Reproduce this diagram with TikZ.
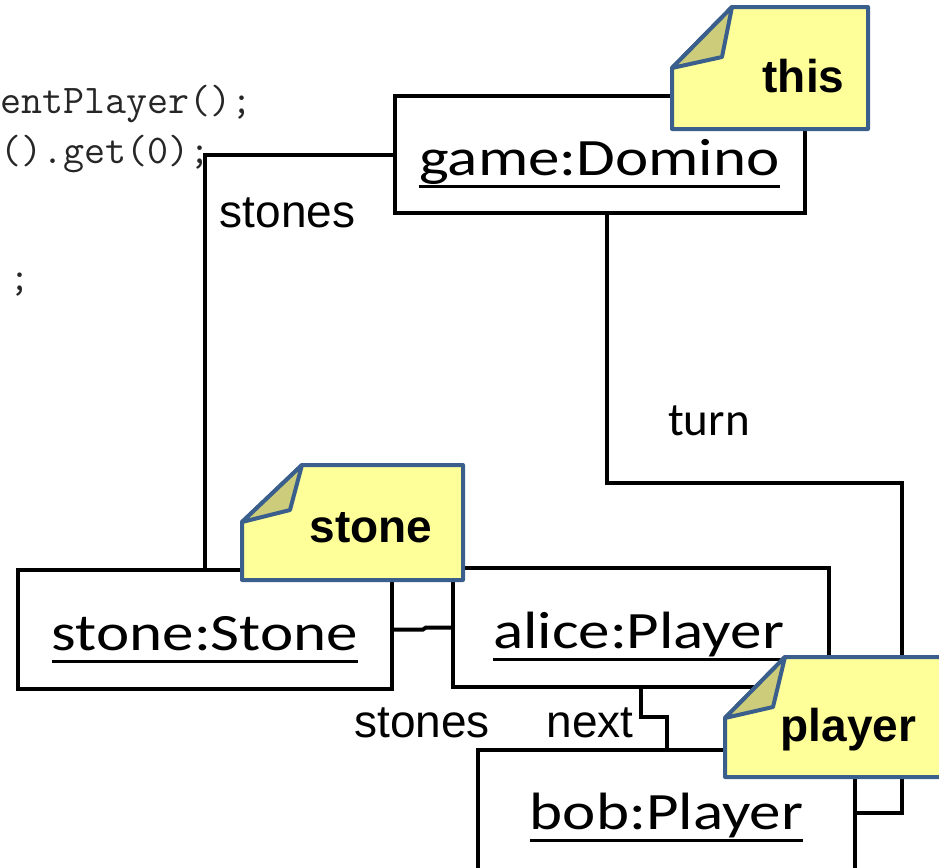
\documentclass[tikz,border=0pt]{standalone}
\usepackage{fontspec}
\setmainfont{Liberation Sans}
\newfontfamily\titlefont[FakeStretch=1.2]{Carlito}
\newfontfamily\labelfont{Carlito}
\usetikzlibrary{calc}

\definecolor{notefill}{RGB}{255,255,153}
\definecolor{notefold}{RGB}{204,204,122}
\definecolor{noteline}{RGB}{58,95,140}

% underlined object name with a fixed underline offset
\newcommand{\objname}[1]{\setbox0\hbox{#1}\rlap{\rule[-13bp]{\wd0}{3bp}}\box0}

% note with a folded top-left corner:
% #1 left, #2 top, #3 right, #4 bottom, #5 x where the top edge starts,
% #6 y where the left edge starts, #7,#8 inner point of the fold
\newcommand{\drawnote}[8]{%
  \draw[noteshape, fill=notefill] (#5,#2) -- (#3,#2) -- (#3,#4) -- (#1,#4) -- (#1,#6) -- cycle;
  \draw[noteshape, fill=notefold] (#1,#6) -- (#5,#2) -- (#7,#8) -- cycle;
}

\tikzset{
  objbox/.style={draw=black, line width=4bp, fill=white, inner sep=0pt},
  objtitle/.style={anchor=base, inner sep=0pt, font=\titlefont\fontsize{52.5bp}{60bp}\selectfont},
  link/.style={draw=black, line width=4bp},
  rolelabel/.style={anchor=base, inner sep=0pt, font=\fontsize{46bp}{54bp}\selectfont},
  turnlabel/.style={anchor=base, inner sep=0pt, font=\labelfont\fontsize{47bp}{54bp}\selectfont},
  noteshape/.style={draw=noteline, line width=4bp, line join=round},
  notetext/.style={anchor=base, inner sep=0pt, font=\bfseries\fontsize{46bp}{54bp}\selectfont},
  codeline/.style={anchor=base west, inner sep=0pt, text=black!85, font=\ttfamily\fontsize{40.8bp}{50bp}\selectfont},
}

\begin{document}
\begin{tikzpicture}[x=1bp, y=-1bp]
\useasboundingbox (0,0) rectangle (939,868);

% code fragment on the left
\node[codeline] (code1) at (0,113) {entPlayer();};
\node[codeline] (code2) at (0,163) {().get(0);};
\node[codeline] (code3) at (9.5,290) {;};

% objects
\node[objbox, minimum width=410bp, minimum height=117bp] (game) at (600,154.5) {};
\node[objbox, minimum width=374bp, minimum height=119bp] (stone) at (205,629.5) {};
\node[objbox, minimum width=376bp, minimum height=119bp] (alice) at (641,627.5) {};
\node[objbox, minimum width=377bp, minimum height=130bp] (bob) at (666.5,815) {};

\node[objtitle] (gametitle) at (599.5,175) {\objname{game:Domino}};
\node[objtitle] (stonetitle) at (205,650) {\objname{stone:Stone}};
\node[objtitle] (alicetitle) at (638.5,648) {\objname{alice:Player}};
\node[objtitle] (bobtitle) at (666.5,829) {\objname{bob:Player}};

% links
\draw[link] (game.west) -| (stone.north);
\draw[link] ([xshift=7bp]game.south) |- (902,483) |- ([yshift=2bp]bob.east);
\draw[link] (stone.east) -- (423,629.5) -- (426,627.5) -- (alice.west);
\draw[link] (alice.south) -- (641,717) -| (bob.north);

% role labels
\node[rolelabel] (stoneslbl) at (287.5,227) {stones};
\node[turnlabel] (turnlbl) at (709,435) {turn};
\node[rolelabel] (stoneslbl2) at (422,737) {stones};
\node[rolelabel] (nextlbl) at (590,737) {next};

% notes naming the variables
\drawnote{672}{7}{868}{129}{732}{68}{722}{57}
\node[notetext] (thisnote) at (803.5,92) {this};
\drawnote{242}{465}{463}{580}{302}{522}{290}{510}
\node[notetext] (stonenote) at (371,542) {stone};
\drawnote{725}{657}{960}{777}{785}{718}{773}{707}
\node[notetext] (playernote) at (848.5,741) {player};
\end{tikzpicture}
\end{document}
